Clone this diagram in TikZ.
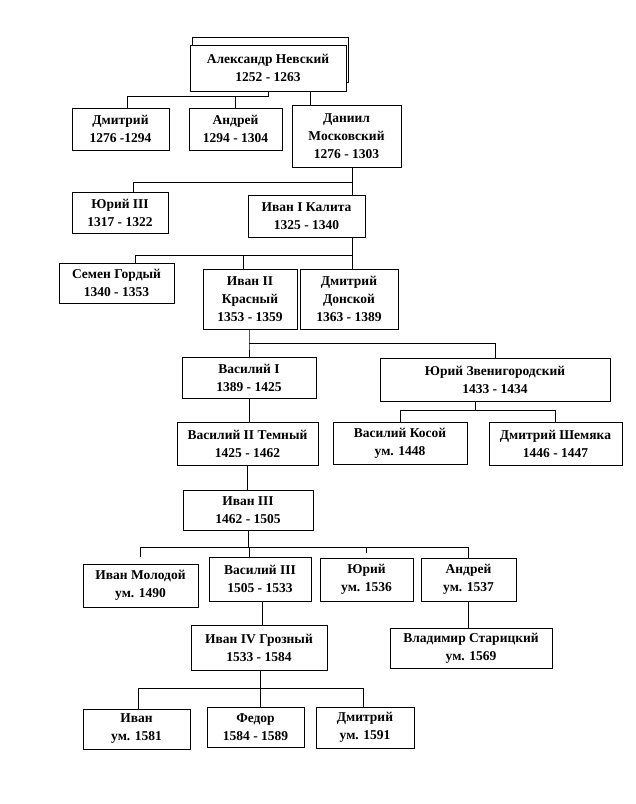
\documentclass[tikz,border=0pt]{standalone}
\usepackage{fontspec}
\setmainfont{Liberation Serif}
\usepackage{tikz}

\begin{document}
\begin{tikzpicture}[x=1pt, y=-1pt, line width=0.9pt,
    box/.style={draw, fill=white, align=center, inner sep=0pt,
        font=\fontsize{13.5}{18}\selectfont\bfseries},
    ]
    \useasboundingbox (0,0) rectangle (636,804);
    \node[box, minimum width=156, minimum height=45] (ghost) at (270,59.5) {};
    \node[box, minimum width=156, minimum height=46] (nevsky) at (268,68) {Александр Невский\\1252 - 1263};
    \node[box, minimum width=97, minimum height=42] (dmitry) at (120.5,129) {Дмитрий\\1276 -1294};
    \node[box, minimum width=93, minimum height=42] (andrey) at (235.5,129) {Андрей\\1294 - 1304};
    \node[box, minimum width=109, minimum height=62] (daniil) at (346.5,136) {Даниил\\Московский\\1276 - 1303};
    \node[box, minimum width=96, minimum height=41] (yuri3) at (120,212.5) {Юрий III\\1317 - 1322};
    \node[box, minimum width=117, minimum height=42] (kalita) at (306.5,216) {Иван I Калита\\1325 - 1340};
    \node[box, minimum width=115, minimum height=40] (semen) at (116.5,283) {Семен Гордый\\1340 - 1353};
    \node[box, minimum width=94, minimum height=60] (ivan2) at (250,299) {Иван II\\Красный\\1353 - 1359};
    \node[box, minimum width=98, minimum height=60] (donskoy) at (349,299) {Дмитрий\\Донской\\1363 - 1389};
    \node[box, minimum width=134, minimum height=41] (vasily1) at (249,377.5) {Василий I\\1389 - 1425};
    \node[box, minimum width=230, minimum height=43] (zvenig) at (495,379.5) {Юрий Звенигородский\\1433 - 1434};
    \node[box, minimum width=141, minimum height=43] (vasily2) at (247.5,443.5) {Василий II Темный\\1425 - 1462};
    \node[box, minimum width=134, minimum height=42] (kosoy) at (400,443) {Василий Косой\\ум. 1448};
    \node[box, minimum width=133, minimum height=43] (shemyaka) at (555.5,443.5) {Дмитрий Шемяка\\1446 - 1447};
    \node[box, minimum width=130, minimum height=40] (ivan3) at (248,510) {Иван III\\1462 - 1505};
    \node[box, minimum width=115, minimum height=43] (molodoy) at (140.5,585.5) {Иван Молодой\\ум. 1490};
    \node[box, minimum width=102, minimum height=44] (vasily3) at (260,579) {Василий III\\1505 - 1533};
    \node[box, minimum width=93, minimum height=43] (yuri) at (366.5,579.5) {Юрий\\ум. 1536};
    \node[box, minimum width=95, minimum height=43] (andrey2) at (468.5,579.5) {Андрей\\ум. 1537};
    \node[box, minimum width=136, minimum height=45] (ivan4) at (259,647.5) {Иван IV Грозный\\1533 - 1584};
    \node[box, minimum width=162, minimum height=40] (staritsky) at (471,648) {Владимир Старицкий\\ум. 1569};
    \node[box, minimum width=107, minimum height=40] (ivan) at (136.5,729) {Иван\\ум. 1581};
    \node[box, minimum width=97, minimum height=40] (fedor) at (255.5,727) {Федор\\1584 - 1589};
    \node[box, minimum width=98, minimum height=41] (dmitry2) at (365,727.5) {Дмитрий\\ум. 1591};

    \draw (nevsky.south) -- ++(0,5) -| ([xshift=6.5]dmitry.north);
    \draw (nevsky.south) ++(0,5) -| (andrey.north);
    \draw ([xshift=42]nevsky.south) -- ([xshift=-36.5]daniil.north);
    \draw ([xshift=5.5]daniil.south) -- ++(0,15) -| ([xshift=13]yuri3.north);
    \draw ([xshift=5.5]daniil.south) -- ([xshift=45.5]kalita.north);
    \draw ([xshift=45.5]kalita.south) -- ++(0,18) -| ([xshift=18.5]semen.north);
    \draw ([xshift=45.5]kalita.south) ++(0,18) -| ([xshift=-7]ivan2.north);
    \draw ([xshift=45.5]kalita.south) -- ([xshift=3]donskoy.north);
    \draw ([xshift=-1]ivan2.south) -- ++(0,14) -| (vasily1.north);
    \draw ([xshift=-1]ivan2.south) ++(0,14) -| (zvenig.north);
    \draw (vasily1.south) -- (vasily1.south |- vasily2.north);
    \draw ([xshift=-20]zvenig.south) -- ++(0,9) -| (kosoy.north);
    \draw ([xshift=-20]zvenig.south) ++(0,9) -| (shemyaka.north);
    \draw (vasily2.south) -- (vasily2.south |- ivan3.north);
    \draw (ivan3.south) -- ++(0,17) -| ([yshift=7]molodoy.north);
    \draw (ivan3.south) ++(0,17) -| ([xshift=-11]vasily3.north);
    \draw (ivan3.south) ++(0,17) -| ([yshift=5]yuri.north);
    \draw (ivan3.south) ++(0,17) -| (andrey2.north);
    \draw ([xshift=2]vasily3.south) -- ([xshift=3]ivan4.north);
    \draw (andrey2.south) -- (andrey2.south |- staritsky.north);
    \draw ([xshift=1]ivan4.south) -- ++(0,18) -| ([xshift=1.5]ivan.north);
    \draw ([xshift=1]ivan4.south) ++(0,18) -| ([xshift=4.5]fedor.north);
    \draw ([xshift=1]ivan4.south) ++(0,18) -| ([xshift=-2]dmitry2.north);
\end{tikzpicture}
\end{document}
